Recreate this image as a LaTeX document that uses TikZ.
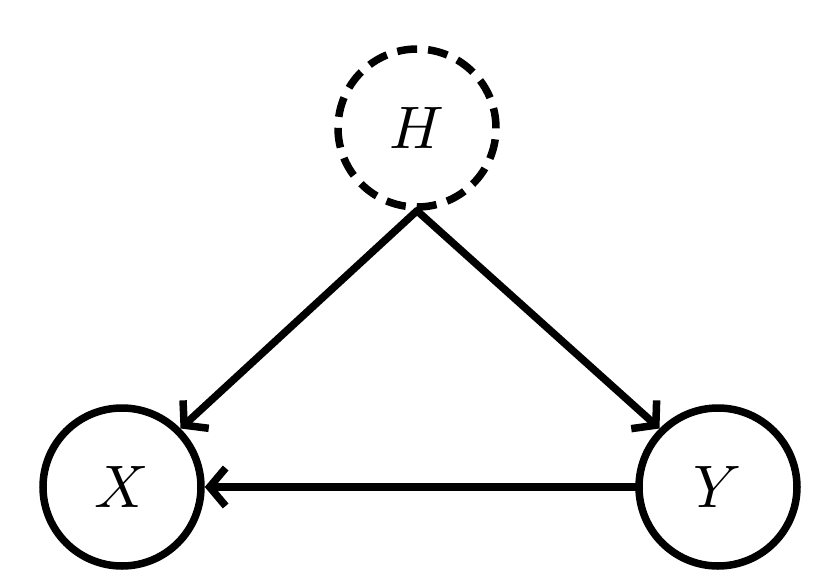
\documentclass[tikz,border=0pt]{standalone}
\usepackage{graphicx}
\usetikzlibrary{arrows.meta}
\begin{document}
\begin{tikzpicture}[x=1pt,y=-1pt,
  var/.style={circle,draw,line width=7.5pt,minimum size=158pt,inner sep=0pt},
  hid/.style={var,dash pattern=on 20pt off 11pt},
  conn/.style={line width=7.5pt,line cap=round,-{Straight Barb[length=16pt,width=38pt,line width=7.5pt]}}]
\useasboundingbox (0,0) rectangle (831,584);
\node[hid] (H) at (417,128) {\scalebox{6}{$H$}};
\node[var] (X) at (122,487) {\scalebox{6}{$X$}};
\node[var] (Y) at (718,487) {\scalebox{6}{$Y$}};
\draw[conn] (H.south) -- (X.north east);
\draw[conn] (H.south) -- (Y.north west);
\draw[conn] (Y.west) -- (X.east);
\end{tikzpicture}
\end{document}
